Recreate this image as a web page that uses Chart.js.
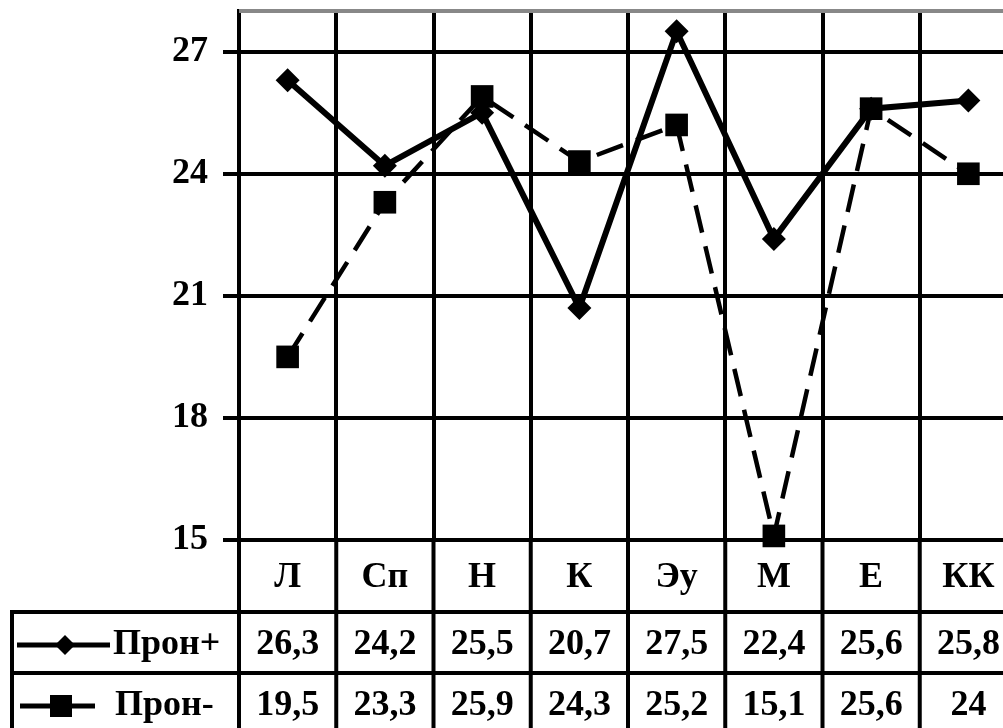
<!DOCTYPE html>
<html>
<head>
<meta charset="utf-8">
<script src="https://cdn.jsdelivr.net/npm/chart.js@4"></script>
<style>
  html, body { margin: 0; padding: 0; background: #fff; overflow: hidden; }
  #wrap { width: 1003px; height: 728px; overflow: hidden; }
  canvas { display: block; }
</style>
</head>
<body>
<div id="wrap"><canvas id="chart" width="1022" height="728"></canvas></div>
<script>
const categories = ['Л', 'Сп', 'Н', 'К', 'Эу', 'М', 'Е', 'КК'];
const pronPlus = [26.3, 24.2, 25.5, 20.7, 27.5, 22.4, 25.6, 25.8];
const pronMinus = [19.5, 23.3, 25.9, 24.3, 25.2, 15.1, 25.6, 24];
const seriesNames = ['Прон+', 'Прон-'];
const yMin = 15, yMax = 28, yStep = 3;

const FONT = "'Liberation Serif', 'Times New Roman', serif";

// comma as decimal separator, like in the source table
const fmt = v => String(v).replace('.', ',');

// data table under the plot (legend keys + values)
const tablePlugin = {
  id: 'dataTable',
  afterDraw(chart) {
    const { ctx, chartArea, scales: { x } } = chart;
    const W = chart.width, H = chart.height;
    const row1 = chartArea.bottom + 72;
    const row2 = row1 + 61;

    ctx.save();
    ctx.lineWidth = 4;

    // gray top border
    ctx.beginPath();
    ctx.strokeStyle = '#888';
    ctx.moveTo(chartArea.left, chartArea.top);
    ctx.lineTo(chartArea.right, chartArea.top);
    ctx.stroke();

    ctx.strokeStyle = '#000';
    ctx.beginPath();
    for (let i = 0; i <= categories.length; i++) {
      const px = x.getPixelForValue(i - 0.5);
      ctx.moveTo(px, chartArea.bottom);
      ctx.lineTo(px, H);
    }
    ctx.moveTo(10, row1); ctx.lineTo(W, row1);
    ctx.moveTo(10, row2); ctx.lineTo(W, row2);
    ctx.moveTo(12, row1); ctx.lineTo(12, H);
    ctx.stroke();

    ctx.fillStyle = '#000';
    ctx.font = 'bold 36px ' + FONT;
    ctx.textAlign = 'center';
    ctx.textBaseline = 'middle';
    const rows = [pronPlus, pronMinus];
    const mids = [row1 + 33, row2 + 33];
    rows.forEach((vals, r) => {
      vals.forEach((v, i) => {
        ctx.fillText(fmt(v), x.getPixelForValue(i), mids[r]);
      });
    });

    // legend keys
    ctx.lineWidth = 5;
    ctx.beginPath();
    ctx.moveTo(17, mids[0]); ctx.lineTo(110, mids[0]);
    ctx.stroke();
    ctx.beginPath();
    ctx.moveTo(65, mids[0] - 10); ctx.lineTo(75, mids[0]);
    ctx.lineTo(65, mids[0] + 10); ctx.lineTo(55, mids[0]);
    ctx.closePath();
    ctx.fill();

    ctx.beginPath();
    ctx.moveTo(20, mids[1]); ctx.lineTo(95, mids[1]);
    ctx.stroke();
    ctx.fillRect(50, mids[1] - 11, 22, 22);

    ctx.textAlign = 'left';
    ctx.fillText(seriesNames[0], 113, mids[0]);
    ctx.fillText(seriesNames[1], 115, mids[1]);
    ctx.restore();
  }
};

new Chart(document.getElementById('chart'), {
  type: 'line',
  data: {
    labels: categories,
    datasets: [
      {
        label: seriesNames[1],
        data: pronMinus,
        borderColor: '#000',
        backgroundColor: '#000',
        borderWidth: 4.5,
        borderDash: [28, 14],
        pointStyle: 'rect',
        pointRadius: 16,
        pointBorderWidth: 0,
        pointBackgroundColor: '#000',
        tension: 0,
        clip: false
      },
      {
        label: seriesNames[0],
        data: pronPlus,
        borderColor: '#000',
        backgroundColor: '#000',
        borderWidth: 6,
        pointStyle: 'rectRot',
        pointRadius: 12,
        pointBorderWidth: 0,
        pointBackgroundColor: '#000',
        tension: 0,
        clip: false
      }
    ]
  },
  options: {
    responsive: false,
    animation: false,
    layout: { autoPadding: false, padding: { top: 11, right: 5, left: 0, bottom: 0 } },
    plugins: {
      legend: { display: false },
      tooltip: { enabled: false }
    },
    scales: {
      x: {
        offset: true,
        grid: { offset: true, color: '#000', lineWidth: 4, drawTicks: false },
        border: { display: true, color: '#000', width: 4 },
        ticks: {
          color: '#000',
          padding: 16,
          font: { family: FONT, size: 36, weight: 'bold' }
        },
        afterFit(s) { s.height = 188; s.paddingLeft = 0; s.paddingRight = 0; }
      },
      y: {
        min: yMin,
        max: yMax,
        grid: { color: '#000', lineWidth: 4, tickLength: 16 },
        border: { display: true, color: '#000', width: 4 },
        ticks: {
          stepSize: yStep,
          includeBounds: false,
          color: '#000',
          padding: 15,
          font: { family: FONT, size: 36, weight: 'bold' }
        },
        afterFit(s) { s.width = 239; s.paddingTop = 0; s.paddingBottom = 0; }
      }
    }
  },
  plugins: [tablePlugin]
});
</script>
</body>
</html>
